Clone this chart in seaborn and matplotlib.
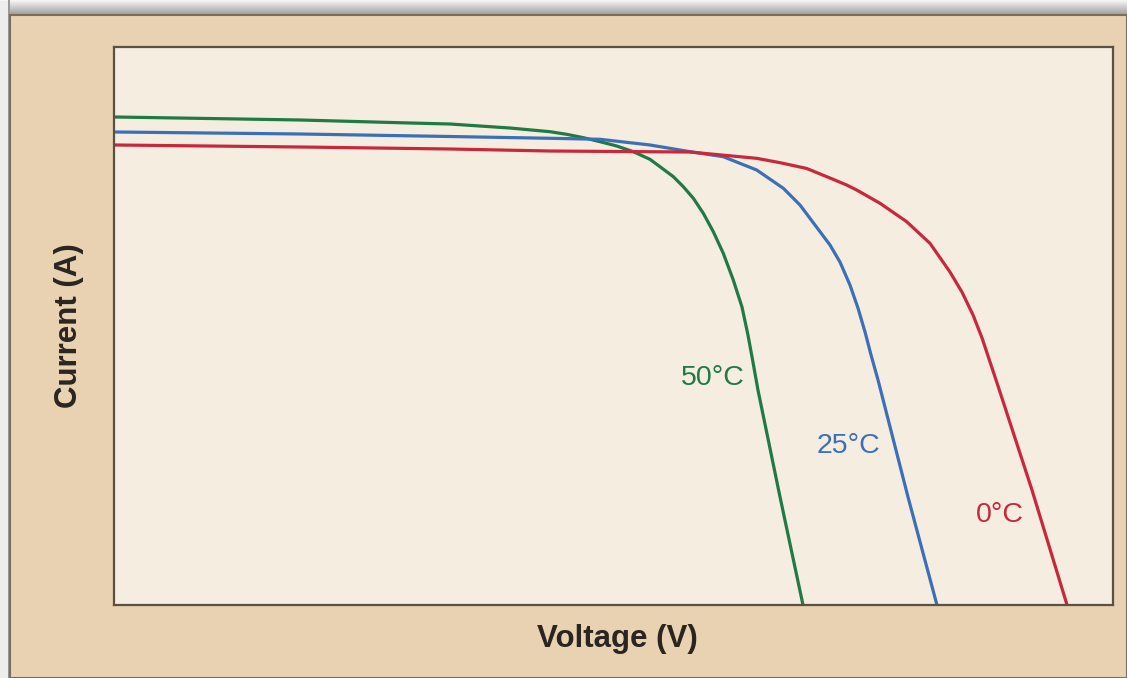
import numpy as np
import pandas as pd
import matplotlib
matplotlib.use("Agg")
import matplotlib.pyplot as plt
from matplotlib.patches import Rectangle
import seaborn as sns

# ---- data (relative units; axes carry no tick values) ----
v_50 = [0.0, 18.62, 29.63, 33.63, 39.64, 43.64, 45.32, 46.98, 48.65, 50.32, 51.98,
        53.65, 54.65, 55.99, 56.99, 57.99, 58.99, 59.99, 60.99, 61.99, 62.86, 63.46,
        63.96, 64.46, 66.67, 68.97]
i_50 = [87.46, 86.92, 86.38, 86.20, 85.48, 84.82, 84.35, 83.75, 83.03, 82.26, 81.24,
        79.87, 78.55, 76.76, 74.96, 72.89, 70.20, 66.90, 63.03, 58.24, 53.41, 48.39,
        43.55, 38.53, 19.35, 0.0]

v_25 = [0.0, 18.62, 33.63, 43.64, 48.65, 53.65, 57.66, 60.99, 64.33, 67.00, 68.67,
        70.17, 71.67, 72.67, 73.67, 74.47, 75.18, 75.78, 76.48, 79.48, 82.38]
i_25 = [84.77, 84.41, 83.96, 83.64, 83.46, 82.44, 81.24, 80.34, 77.96, 74.68, 71.68,
        68.10, 64.52, 61.47, 57.35, 53.23, 48.92, 44.80, 40.32, 19.35, 0.0]

v_0 = [0.0, 18.62, 33.63, 43.64, 57.66, 64.33, 66.67, 69.34, 71.67, 73.34, 74.34,
       76.68, 79.35, 81.68, 83.68, 84.88, 85.99, 86.89, 87.69, 88.49, 91.89, 95.40]
i_0 = [82.44, 82.08, 81.72, 81.36, 81.18, 80.05, 79.27, 78.23, 76.52, 75.27, 74.37,
       71.99, 68.69, 64.82, 59.68, 56.09, 51.97, 47.85, 43.55, 39.25, 20.61, 0.0]

series_names = ["50°C", "25°C", "0°C"]
label_x = [59.9, 73.5, 88.7]
label_y = [40.7, 28.5, 16.1]

colors = {"50°C": "#1f7a45", "25°C": "#3b70b8", "0°C": "#c8283c"}

df = pd.concat([
    pd.DataFrame({"Voltage": v_50, "Current": i_50, "Temp": "50°C"}),
    pd.DataFrame({"Voltage": v_25, "Current": i_25, "Temp": "25°C"}),
    pd.DataFrame({"Voltage": v_0, "Current": i_0, "Temp": "0°C"}),
], ignore_index=True)

sns.set_theme(style="white")
plt.rcParams["font.family"] = ["Liberation Sans", "DejaVu Sans"]

W, H = 1127, 678
fig = plt.figure(figsize=(W / 100, H / 100), dpi=100)
fig.patch.set_facecolor("#d4d4d4")

# background decoration: gray gradient frame + tan panel
bg = fig.add_axes([0, 0, 1, 1], zorder=-2)
bg.set_axis_off()
grad = np.linspace(0.96, 0.62, 15)
img = np.ones((H, W, 3)) * 0.85
img[:15, :, :] = grad[:, None, None]
img[:, :8, :] = np.maximum(img[:, :8, :], 0.93)
img[:, 8:10, :] = 0.6
bg.imshow(img, extent=[0, W, H, 0], aspect="auto")
bg.add_patch(Rectangle((10, 15), W - 10, H - 15, facecolor="#e8d2b2",
                       edgecolor="#7d6d5c", linewidth=1.5))
bg.set_xlim(0, W)
bg.set_ylim(H, 0)

ax = fig.add_axes([114 / W, 1 - 605 / H, (1113 - 114) / W, (605 - 47) / H])
ax.set_facecolor("#f5ede0")

sns.lineplot(data=df, x="Voltage", y="Current", hue="Temp", palette=colors,
             estimator=None, sort=False, linewidth=2.3, legend=False, ax=ax)
for line in ax.get_lines():
    line.set_solid_joinstyle("round")
    line.set_solid_capstyle("butt")

for name, lx, ly in zip(series_names, label_x, label_y):
    ax.text(lx, ly, name, color=colors[name], fontsize=20.5,
            ha="center", va="center")

ax.set_xlim(0, 100)
ax.set_ylim(0, 100)
ax.set_xticks([])
ax.set_yticks([])
for s in ax.spines.values():
    s.set_color("#5a5045")
    s.set_linewidth(1.6)

ax.set_xlabel("Voltage (V)", fontsize=22.5, fontweight="bold", color="#2a2520")
ax.set_ylabel("Current (A)", fontsize=22.5, fontweight="bold", color="#2a2520")
ax.xaxis.set_label_coords(0.504, -0.034)
ax.yaxis.set_label_coords(-0.030, 0.5)

fig.savefig("out.png", dpi=100, facecolor=fig.get_facecolor())
